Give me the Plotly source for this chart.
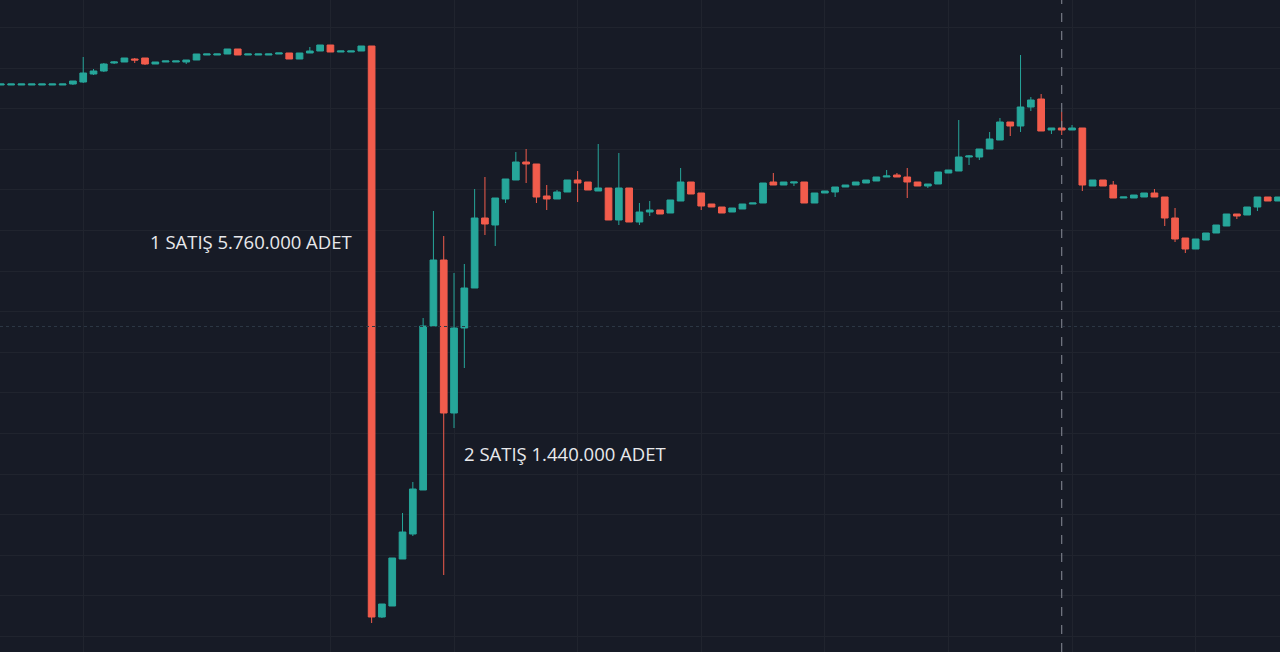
import plotly.graph_objs as go

# Candle values. The price scale has no labels,
# so the units are arbitrary (one unit = ten screen pixels).
opens = [
    56.7, 56.7, 56.7, 56.7, 56.7, 56.7, 56.7, 56.8, 57.0, 57.8,
    58.1, 58.9, 59.0, 59.3, 59.4, 58.8, 59.0, 59.0, 59.0, 59.2,
    59.7, 59.7, 59.8, 60.3, 59.7, 59.7, 59.7, 59.8, 59.9, 59.3,
    59.9, 60.1, 60.7, 60.0, 60.0, 60.1, 60.6, 3.5, 4.6, 9.3,
    11.8, 16.2, 32.6, 39.2, 23.9, 32.4, 36.4, 43.4, 42.7, 45.3,
    47.2, 49.0, 48.8, 45.6, 45.3, 46.0, 47.2, 47.0, 46.1, 46.4,
    43.2, 46.4, 43.0, 44.0, 44.2, 43.9, 45.1, 47.0, 45.9, 44.8,
    44.5, 44.0, 44.3, 44.8, 44.9, 47.0, 46.7, 46.9, 47.0, 44.9,
    45.9, 46.0, 46.5, 46.7, 46.9, 47.1, 47.5, 47.7, 47.5, 47.0,
    46.6, 46.8, 47.9, 48.1, 49.5, 49.5, 50.3, 51.2, 53.0, 52.6,
    54.5, 55.3, 52.2, 52.4, 52.2, 52.4, 46.6, 47.2, 46.7, 45.4,
    45.4, 45.5, 45.9, 45.5, 43.4, 41.4, 40.3, 41.2, 41.9, 42.6,
    43.8, 43.7, 44.5, 45.5, 45.1,
]
highs = [
    56.8, 56.8, 56.8, 56.8, 56.8, 56.8, 56.8, 57.1, 59.5, 58.3,
    58.9, 59.1, 59.4, 59.4, 59.4, 59.0, 59.1, 59.1, 59.2, 59.8,
    59.8, 59.8, 60.3, 60.3, 59.8, 59.8, 59.8, 59.9, 59.9, 59.9,
    60.5, 60.7, 60.7, 60.1, 60.1, 60.6, 60.6, 4.8, 9.4, 13.9,
    17.0, 33.4, 44.1, 41.6, 37.9, 38.8, 46.3, 47.5, 45.4, 47.3,
    50.0, 50.3, 48.8, 46.7, 46.2, 47.2, 48.1, 47.0, 50.8, 46.4,
    49.9, 46.4, 44.9, 45.1, 44.2, 45.2, 48.4, 47.0, 45.9, 44.8,
    44.5, 44.4, 44.8, 44.9, 46.9, 47.9, 47.0, 47.0, 47.0, 45.9,
    46.1, 46.5, 46.7, 47.0, 47.2, 47.5, 48.2, 47.9, 48.4, 47.0,
    46.8, 48.0, 48.2, 53.2, 49.7, 50.3, 52.0, 53.4, 53.0, 59.7,
    55.5, 55.8, 52.4, 54.0, 52.7, 52.4, 47.2, 47.2, 47.1, 45.5,
    45.7, 45.9, 46.3, 45.5, 44.4, 41.4, 41.3, 41.9, 42.7, 43.8,
    43.8, 44.5, 45.5, 45.5, 45.5,
]
lows = [
    56.7, 56.7, 56.7, 56.7, 56.7, 56.7, 56.7, 56.7, 56.9, 57.7,
    58.0, 58.8, 59.0, 58.9, 58.7, 58.8, 59.0, 59.0, 58.8, 59.2,
    59.7, 59.7, 59.8, 59.7, 59.7, 59.7, 59.7, 59.8, 59.3, 59.3,
    59.9, 60.1, 60.0, 60.0, 60.0, 60.1, 2.9, 3.4, 4.6, 9.3,
    11.6, 16.2, 32.6, 7.7, 22.4, 28.4, 36.4, 41.7, 40.6, 44.9,
    47.2, 46.9, 44.9, 44.2, 45.3, 46.0, 45.0, 46.2, 46.1, 43.2,
    42.7, 43.0, 42.7, 43.6, 43.8, 43.9, 45.1, 45.8, 44.2, 44.5,
    43.9, 44.0, 44.3, 44.8, 44.9, 46.7, 46.7, 46.6, 44.9, 44.9,
    45.9, 45.5, 46.5, 46.7, 46.9, 47.1, 47.5, 47.5, 45.4, 46.6,
    46.4, 46.8, 47.9, 48.1, 48.7, 49.2, 50.3, 51.2, 51.6, 52.0,
    54.1, 52.1, 51.8, 51.7, 52.2, 46.1, 46.6, 46.6, 45.4, 45.4,
    45.4, 45.5, 45.5, 42.6, 41.0, 39.9, 40.3, 41.2, 41.9, 42.6,
    43.3, 43.7, 44.1, 45.1, 45.1,
]
closes = [
    56.8, 56.8, 56.8, 56.8, 56.8, 56.8, 56.8, 57.1, 57.9, 58.1,
    58.8, 59.0, 59.4, 59.2, 58.8, 59.0, 59.1, 59.1, 59.2, 59.8,
    59.8, 59.8, 60.3, 59.7, 59.8, 59.8, 59.8, 59.9, 59.3, 59.9,
    60.1, 60.7, 60.0, 60.1, 60.1, 60.6, 3.5, 4.8, 9.4, 12.0,
    16.3, 32.6, 39.2, 23.9, 32.4, 36.4, 43.4, 42.8, 45.4, 47.3,
    49.0, 48.8, 45.5, 45.3, 46.0, 47.2, 46.9, 46.2, 46.4, 43.2,
    46.4, 43.0, 44.0, 44.2, 43.8, 45.2, 47.0, 45.8, 44.6, 44.5,
    43.9, 44.4, 44.8, 44.9, 46.9, 46.7, 47.0, 47.0, 44.9, 45.9,
    46.1, 46.5, 46.7, 47.0, 47.2, 47.5, 47.6, 47.5, 47.0, 46.6,
    46.8, 48.0, 48.2, 49.5, 49.6, 50.3, 51.3, 53.0, 52.6, 54.5,
    55.2, 52.1, 52.4, 52.2, 52.4, 46.7, 47.2, 46.6, 45.4, 45.5,
    45.7, 45.9, 45.5, 43.4, 41.3, 40.3, 41.3, 41.9, 42.7, 43.8,
    43.6, 44.5, 45.5, 45.1, 45.5,
]
bars = list(range(len(opens)))

# bars where the vertical grid lines sit
grid_bars = [8, 32, 44, 56, 68, 80, 92, 104, 116]

# crosshair position
crosshair_bar = 103
crosshair_price = 32.55

notes = ["1 SATIŞ 5.760.000 ADET", "2 SATIŞ 1.440.000 ADET"]

BG = "#171b26"
GRID = "#20242e"
UP = "#26a69a"
DOWN = "#f25c4c"

fig = go.Figure()

fig.add_trace(
    go.Candlestick(
        x=bars,
        open=opens,
        high=highs,
        low=lows,
        close=closes,
        increasing=dict(line=dict(color=UP, width=1), fillcolor=UP),
        decreasing=dict(line=dict(color=DOWN, width=1), fillcolor=DOWN),
        whiskerwidth=0,
        hoverinfo="skip",
        showlegend=False,
    )
)

# crosshair
fig.add_shape(
    type="line", xref="x", yref="paper",
    x0=crosshair_bar, x1=crosshair_bar, y0=0, y1=1,
    line=dict(color="#8a8e98", width=1, dash="dash"),
)
fig.add_shape(
    type="line", xref="paper", yref="y",
    x0=0, x1=1, y0=crosshair_price, y1=crosshair_price,
    line=dict(color="#2c3744", width=1, dash="dot"),
)

# trade notes
note_font = dict(family="Open Sans", size=18.5, color="#e8e9ec")
fig.add_annotation(
    text=notes[0], xref="paper", yref="paper", x=0.116, y=0.630,
    xanchor="left", yanchor="middle", showarrow=False, font=note_font,
)
fig.add_annotation(
    text=notes[1], xref="paper", yref="paper", x=0.361, y=0.305,
    xanchor="left", yanchor="middle", showarrow=False, font=note_font,
)

fig.update_layout(
    width=1280,
    height=652,
    margin=dict(l=0, r=0, t=0, b=0),
    paper_bgcolor=BG,
    plot_bgcolor=BG,
    boxgap=0.35,
    boxgroupgap=0,
    hovermode=False,
    xaxis=dict(
        range=[-0.08, 124.19],
        tickvals=grid_bars,
        showticklabels=False,
        gridcolor=GRID,
        zeroline=False,
        showline=False,
        rangeslider=dict(visible=False),
    ),
    yaxis=dict(
        range=[0, 65.2],
        tick0=1.55,
        dtick=4.06,
        showticklabels=False,
        gridcolor=GRID,
        zeroline=False,
        showline=False,
    ),
)

# drop the default page margin so the chart sits at the window corner
fig.write_html(
    "out.html",
    config={"displayModeBar": False},
    post_script="document.body.style.margin = '0'; document.body.style.background = '" + BG + "';",
)
